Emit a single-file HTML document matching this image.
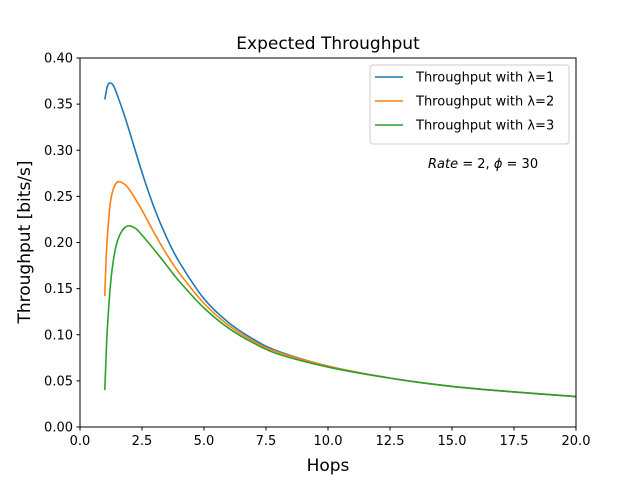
<!DOCTYPE html>
<html><head><meta charset="utf-8"><style>
body{margin:0;background:#fff}
text{font-family:"DejaVu Sans","Liberation Sans",sans-serif}
</style></head><body>
<svg id="chart" width="640" height="480" xmlns="http://www.w3.org/2000/svg">
<rect width="640" height="480" fill="#fff"/>
<text x="328" y="49" font-size="17" text-anchor="middle">Expected Throughput</text>
<g id="ticks"></g>
<g id="lines"></g>
<rect x="80" y="58" width="496" height="369" fill="none" stroke="#000" stroke-width="1"/>
<text x="328" y="471" font-size="17" text-anchor="middle">Hops</text>
<text transform="translate(30,242) rotate(-90)" font-size="17" text-anchor="middle">Throughput [bits/s]</text>
<g>
<rect x="370" y="65" width="199" height="79" rx="3" fill="#fff" fill-opacity="0.8" stroke="#ccc"/>
<g id="legend-items"></g>
</g>
<text x="428" y="168" font-size="13"><tspan font-style="italic">Rate</tspan> = 2,  <tspan font-style="italic">ϕ</tspan> = 30</text>
</svg>
<script>
const xs1=[1,1.1,1.2,1.35,1.5,1.75,2,2.5,3,3.5,4,5,6,7,8,10,12.5,15,17.5,20];
const s1=[0.355,0.369,0.373,0.370,0.360,0.341,0.320,0.276,0.237,0.205,0.179,0.139,0.113,0.095,0.082,0.066,0.053,0.044,0.038,0.033];
const xs2=[1,1.05,1.1,1.2,1.3,1.45,1.6,1.8,2,2.5,3,3.5,4,5,6,7,8,10,12.5,15,17.5,20];
const s2=[0.142,0.180,0.205,0.238,0.254,0.264,0.266,0.263,0.257,0.235,0.210,0.187,0.167,0.134,0.110,0.093,0.081,0.066,0.053,0.044,0.038,0.033];
const xs3=[1,1.05,1.1,1.2,1.3,1.45,1.6,1.8,2,2.25,2.5,3,3.5,4,5,6,7,8,10,12.5,15,17.5,20];
const s3=[0.040,0.075,0.105,0.145,0.172,0.196,0.208,0.216,0.218,0.215,0.208,0.192,0.175,0.158,0.129,0.107,0.091,0.079,0.065,0.053,0.044,0.038,0.033];
const xTicks=[0,2.5,5,7.5,10,12.5,15,17.5,20];
const xTickLabels=["0.0","2.5","5.0","7.5","10.0","12.5","15.0","17.5","20.0"];
const yTicks=[0,0.05,0.1,0.15,0.2,0.25,0.3,0.35,0.4];
const yTickLabels=["0.00","0.05","0.10","0.15","0.20","0.25","0.30","0.35","0.40"];
const seriesNames=["Throughput with λ=1","Throughput with λ=2","Throughput with λ=3"];
const colors=["#1f77b4","#ff7f0e","#2ca02c"];
const NS="http://www.w3.org/2000/svg";
const X=v=>80+v/20*496, Y=v=>427-v/0.4*369;
const tg=document.getElementById('ticks');
function mk(t,a,p){const e=document.createElementNS(NS,t);for(const k in a)e.setAttribute(k,a[k]);p.appendChild(e);return e;}
xTicks.forEach((v,i)=>{
 const l=mk('line',{x1:X(v),x2:X(v),y1:427,y2:430.5,stroke:'#000'},tg);
 
 
 const t=mk('text',{x:X(v),y:445,'font-size':13,'text-anchor':'middle'},tg);t.textContent=xTickLabels[i];
 
 
});
yTicks.forEach((v,i)=>{
 const l=mk('line',{x1:76.5,x2:80,y1:Y(v),y2:Y(v),stroke:'#000'},tg);
 
 
 const t=mk('text',{x:73,y:Y(v)+4.5,'font-size':13,'text-anchor':'end'},tg);t.textContent=yTickLabels[i];
 
 
});
const lg=document.getElementById('lines');
[[xs1,s1],[xs2,s2],[xs3,s3]].forEach((d,k)=>{
 const pts=d[0].map((x,i)=>[X(x),Y(d[1][i])]);
 let p='M'+pts[0][0]+','+pts[0][1];
 for(let i=0;i<pts.length-1;i++){
  const p0=pts[Math.max(0,i-1)],p1=pts[i],p2=pts[i+1],p3=pts[Math.min(pts.length-1,i+2)];
  const c1=[p1[0]+(p2[0]-p0[0])/6,p1[1]+(p2[1]-p0[1])/6],c2=[p2[0]-(p3[0]-p1[0])/6,p2[1]-(p3[1]-p1[1])/6];
  p+=`C${c1[0]},${c1[1]} ${c2[0]},${c2[1]} ${p2[0]},${p2[1]}`;
 }
 const e=mk('path',{d:p,fill:'none',stroke:colors[k],'stroke-width':1.6},lg);
 
 
});
const li=document.getElementById('legend-items');
seriesNames.forEach((n,k)=>{
 const y=77+k*24;
 const l=mk('line',{x1:375,x2:403,y1:y,y2:y,stroke:colors[k],'stroke-width':1.6},li);
 
 
 const t=mk('text',{x:416,y:y+4.5,'font-size':13},li);t.textContent=n;
 
 
});
</script>
</body></html>
